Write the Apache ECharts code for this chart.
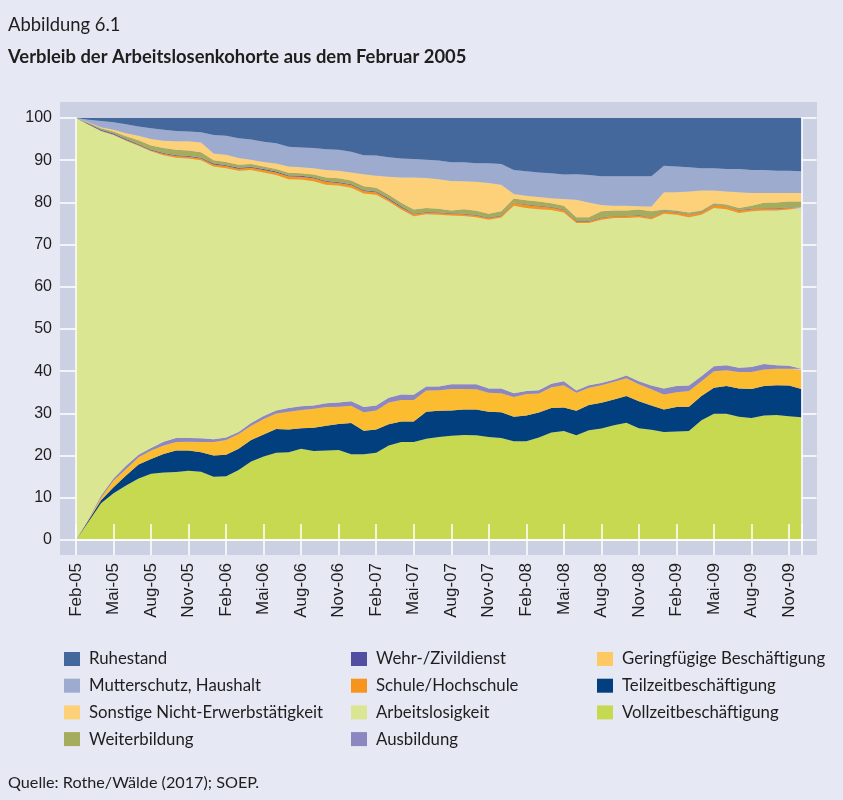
<!DOCTYPE html>
<html>
<head>
<meta charset="utf-8">
<script src="https://cdn.jsdelivr.net/npm/echarts@6/dist/echarts.min.js"></script>
<style>
html,body{margin:0;padding:0;background:#e6e8f3;}
#c{width:843px;height:800px;}
</style>
</head>
<body>
<div id="c"></div>
<script>
const categories = [
  'Feb-05','Mär-05','Apr-05','Mai-05','Jun-05','Jul-05','Aug-05','Sep-05','Okt-05','Nov-05','Dez-05',
  'Jan-06','Feb-06','Mär-06','Apr-06','Mai-06','Jun-06','Jul-06','Aug-06','Sep-06','Okt-06','Nov-06','Dez-06',
  'Jan-07','Feb-07','Mär-07','Apr-07','Mai-07','Jun-07','Jul-07','Aug-07','Sep-07','Okt-07','Nov-07','Dez-07',
  'Jan-08','Feb-08','Mär-08','Apr-08','Mai-08','Jun-08','Jul-08','Aug-08','Sep-08','Okt-08','Nov-08','Dez-08',
  'Jan-09','Feb-09','Mär-09','Apr-09','Mai-09','Jun-09','Jul-09','Aug-09','Sep-09','Okt-09','Nov-09','Dez-09'
];
const yTicks = [0,10,20,30,40,50,60,70,80,90,100];

const vollzeit = [0,4.3,8.7,11.1,12.9,14.6,15.7,16.0,16.1,16.4, 16.2,15.0,15.1,16.6,18.6,19.8,20.7,20.8,21.6,21.1, 21.2,21.3,20.3,20.3,20.7,22.4,23.2,23.2,24.0,24.4, 24.7,24.9,24.8,24.4,24.2,23.4,23.4,24.3,25.5,25.8, 24.8,26.0,26.4,27.2,27.8,26.5,26.1,25.6,25.7,25.8, 28.4,29.9,29.9,29.2,28.9,29.5,29.6,29.3,29.1];
const teilzeit = [0,0.4,0.7,1.4,2.4,3.3,3.5,4.4,5.1,4.8, 4.6,5.0,5.1,5.0,5.1,5.2,5.6,5.4,4.9,5.5, 5.9,6.2,7.4,5.6,5.5,5.0,4.9,4.9,6.4,6.2, 6.0,6.0,6.1,6.0,6.1,5.8,6.1,5.9,5.8,5.6, 5.8,6.0,6.1,6.1,6.3,6.4,5.8,5.3,5.8,5.8, 5.7,6.2,6.6,6.7,6.9,7.0,7.1,7.3,6.7];
const geringfuegig = [0,0.2,0.7,1.6,1.5,1.7,2.0,2.0,2.0,2.1, 2.4,3.2,3.5,3.5,3.4,3.7,3.7,4.2,4.3,4.5, 4.4,4.1,4.1,4.4,4.5,5.2,5.1,5.1,5.0,4.9, 5.1,4.9,4.8,4.5,4.5,4.7,5.1,4.5,4.9,5.3, 4.3,4.1,4.2,4.2,4.2,4.0,3.8,3.6,3.5,3.7, 3.5,3.9,3.7,3.9,4.0,3.9,3.9,4.0,4.4];
const ausbildung = [0,0.1,0.4,0.5,0.8,0.6,0.6,0.9,1.0,0.9, 0.9,0.7,0.6,0.5,0.6,0.7,0.7,0.9,0.9,0.8, 0.9,1.0,1.1,1.2,1.2,1.1,1.3,1.2,1.0,0.9, 1.1,1.1,1.2,1.0,1.1,0.9,0.7,0.8,0.8,0.9, 0.5,0.6,0.5,0.5,0.7,0.7,0.9,1.4,1.5,1.3, 1.2,1.2,1.2,1.0,1.2,1.3,0.8,0.7,0.4];
const arbeitslos = [100,93.4,86.4,81.4,77.0,73.2,70.3,67.9,66.4,66.2, 65.9,64.6,63.8,61.9,60.0,57.7,55.8,54.2,53.7,53.1, 51.8,51.4,50.6,50.6,49.9,46.5,43.8,42.3,40.8,40.7, 40.0,39.9,39.6,40.0,40.5,44.4,43.4,42.9,41.2,40.0, 39.7,38.4,38.7,38.3,37.3,38.9,39.4,41.4,40.6,39.9, 38.3,37.5,37.0,36.7,36.9,36.4,36.7,37.0,37.8];
const schule = [0,0.1,0.1,0.1,0.2,0.2,0.2,0.3,0.4,0.4, 0.4,0.5,0.5,0.5,0.5,0.6,0.6,0.7,0.7,0.7, 0.7,0.6,0.6,0.6,0.6,0.5,0.5,0.5,0.4,0.4, 0.4,0.4,0.4,0.4,0.4,0.7,0.7,0.7,0.6,0.6, 0.4,0.4,0.4,0.4,0.4,0.4,0.4,0.5,0.5,0.5, 0.5,0.6,0.6,0.6,0.5,0.5,0.4,0.4,0.4];
const wehr = [0,0.2,0.2,0.2,0.2,0.2,0.2,0.2,0.2,0.2, 0.2,0.2,0.2,0.2,0.2,0.2,0.2,0.2,0.2,0.2, 0.2,0.2,0.2,0.2,0.2,0.2,0.2,0.1,0.1,0.1, 0.1,0.1,0.1,0.1,0.1,0.1,0.1,0.1,0.1,0.1, 0.1,0.1,0.1,0.1,0.1,0.1,0.1,0.1,0.1,0.1, 0.1,0.1,0.1,0.1,0.1,0.1,0.1,0.1,0.1];
const weiterbildung = [0,0.2,0.4,0.5,0.7,0.9,1.0,1.2,1.3,1.3, 1.3,0.8,0.8,0.7,0.7,0.6,0.6,0.6,0.6,0.7, 0.8,0.9,0.9,0.9,0.9,0.9,0.9,1.0,1.0,0.9, 0.7,1.1,1.0,0.9,1.0,0.9,1.0,1.0,0.9,0.9, 0.9,0.9,1.5,1.3,1.3,1.3,1.4,0.4,0.4,0.5, 0.4,0.4,0.4,0.5,0.7,1.2,1.4,1.4,1.3];
const sonstige = [0,0.1,0.2,0.4,0.7,1.1,1.5,1.7,2.0,2.2, 2.3,1.6,1.7,1.6,1.0,1.1,1.3,1.5,1.4,1.5, 1.8,1.8,1.9,2.9,2.8,4.3,6.0,7.6,7.1,7.0, 7.0,6.6,6.9,7.3,6.3,1.1,1.1,1.1,1.2,1.6, 4.1,3.5,1.5,1.1,1.1,0.8,1.1,4.1,4.3,5.0, 4.7,3.0,3.1,3.7,3.0,2.3,2.2,2.0,2.0];
const mutterschutz = [0,0.6,1.5,1.8,2.1,2.2,2.6,2.6,2.4,2.3, 2.4,4.4,4.5,4.7,4.8,4.8,4.8,4.7,4.7,4.8, 4.9,5.0,4.9,4.5,4.8,4.6,4.5,4.4,4.3,4.4, 4.4,4.5,4.4,4.7,4.9,5.7,5.8,5.8,5.9,5.8, 6.1,6.5,6.8,7.0,7.0,7.1,7.2,6.3,6.1,5.7, 5.3,5.3,5.3,5.5,5.5,5.5,5.3,5.3,5.2];
const ruhestand = [0,0.4,0.7,1.0,1.5,2.0,2.4,2.8,3.1,3.2, 3.4,4.0,4.2,4.8,5.1,5.6,6.0,6.8,7.0,7.1, 7.4,7.5,8.0,8.8,8.9,9.3,9.6,9.7,9.9,10.1, 10.5,10.5,10.7,10.7,10.9,12.3,12.6,12.9,13.1,13.4, 13.3,13.5,13.8,13.8,13.8,13.8,13.8,11.3,11.5,11.7, 11.9,11.9,12.1,12.1,12.3,12.3,12.5,12.5,12.6];

// stacking order: bottom to top
const layers = [
  {name:'Vollzeitbeschäftigung', data:vollzeit, color:'#c6d950'},
  {name:'Teilzeitbeschäftigung', data:teilzeit, color:'#023f7f'},
  {name:'Geringfügige Beschäftigung', data:geringfuegig, color:'#fbbc30', legendColor:'#fec962'},
  {name:'Ausbildung', data:ausbildung, color:'#8c86c1'},
  {name:'Arbeitslosigkeit', data:arbeitslos, color:'#dbe693'},
  {name:'Schule/Hochschule', data:schule, color:'#f7941e'},
  {name:'Wehr-/Zivildienst', data:wehr, color:'#524fa1'},
  {name:'Weiterbildung', data:weiterbildung, color:'#a6ac5d'},
  {name:'Sonstige Nicht-Erwerbstätigkeit', data:sonstige, color:'#fdd17a'},
  {name:'Mutterschutz, Haushalt', data:mutterschutz, color:'#9dacce'},
  {name:'Ruhestand', data:ruhestand, color:'#44679c'}
];
const legendCols = [
  ['Ruhestand','Mutterschutz, Haushalt','Sonstige Nicht-Erwerbstätigkeit','Weiterbildung'],
  ['Wehr-/Zivildienst','Schule/Hochschule','Arbeitslosigkeit','Ausbildung'],
  ['Geringfügige Beschäftigung','Teilzeitbeschäftigung','Vollzeitbeschäftigung']
];
const legendLefts = [64, 351, 597];

const lastIdx = categories.length - 1;
const tickShow = (i) => i % 3 === 0 || i === lastIdx;
const white = {color:'#ffffff', width:1.5};
const labelFont = {fontFamily:'Liberation Sans, Arial, sans-serif', fontSize:16, color:'#1e1e1e'};

const chart = echarts.init(document.getElementById('c'), null, {renderer:'canvas'});
const option = {
  backgroundColor:'#e6e8f3',
  animation:false,
  title:[
    {text:'Abbildung 6.1', left:8, top:16, padding:0, textStyle:{fontFamily:'Lato', fontSize:18.4, fontWeight:'normal', color:'#1e1e1e'}},
    {text:'Verbleib der Arbeitslosenkohorte aus dem Februar 2005', left:8, top:48, padding:0, textStyle:{fontFamily:'Lato', fontSize:18.4, fontWeight:'bold', color:'#1e1e1e'}},
    {text:'Quelle: Rothe/Wälde (2017); SOEP.', left:8, top:775, padding:0, textStyle:{fontFamily:'Lato', fontSize:16.2, fontWeight:'normal', color:'#1e1e1e'}}
  ],
  legend: legendCols.map((names, k) => ({
    orient:'vertical', left:legendLefts[k], top:650.5, padding:0,
    itemWidth:16, itemHeight:14, itemGap:9.7, icon:'rect', selectedMode:false,
    textStyle:{fontFamily:'Lato', fontSize:16.8, color:'#1e1e1e', lineHeight:17, padding:[0,0,0,4]},
    data: names.map(n => {
      const l = layers.find(x => x.name === n);
      return {name:n, itemStyle:{color:l.legendColor || l.color}};
    })
  })),
  graphic:[{type:'rect', z:-10, shape:{x:60, y:102, width:757, height:453}, style:{fill:'#cbd0e3'}}],
  grid:{left:76, right:41.5, top:118, bottom:260},
  xAxis:[
    {type:'category', data:categories, boundaryGap:false, position:'bottom', z:10,
     axisLine:{lineStyle:white}, axisTick:{show:true, interval:tickShow, length:15, lineStyle:white},
     axisLabel:Object.assign({rotate:90, margin:23, interval:(i)=> i % 3 === 0}, labelFont, {fontSize:17}),
     splitLine:{show:false}},
    {type:'category', data:categories, boundaryGap:false, position:'top', z:10,
     axisLine:{lineStyle:white}, axisTick:{show:true, interval:tickShow, length:16, lineStyle:white},
     axisLabel:{show:false}, splitLine:{show:false}}
  ],
  yAxis:[
    {type:'value', min:yTicks[0], max:yTicks[yTicks.length-1], interval:10, position:'left', z:10,
     axisLine:{show:true, lineStyle:white}, axisTick:{show:true, length:16, lineStyle:white},
     axisLabel:Object.assign({margin:24}, labelFont), splitLine:{show:false}},
    {type:'value', min:yTicks[0], max:yTicks[yTicks.length-1], interval:10, position:'right', z:10,
     axisLine:{show:true, lineStyle:white}, axisTick:{show:true, length:15, lineStyle:white},
     axisLabel:{show:false}, splitLine:{show:false}}
  ],
  series: layers.map(l => ({
    name:l.name, type:'line', stack:'total', data:l.data,
    symbol:'none', showSymbol:false, smooth:false,
    color:l.color,
    itemStyle:{color:l.color},
    lineStyle:{width:0, color:l.color},
    areaStyle:{color:l.color, opacity:1},
    emphasis:{disabled:true}
  }))
};
chart.setOption(option);
</script>
</body>
</html>
